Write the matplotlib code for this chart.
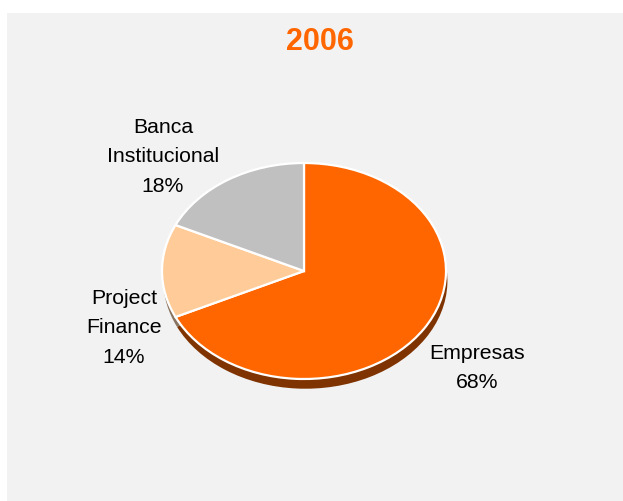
import matplotlib
matplotlib.use("Agg")
import matplotlib.pyplot as plt
from matplotlib.patches import Rectangle

plt.rcParams['font.family'] = ['Liberation Sans', 'DejaVu Sans']

title = "2006"
categories = ["Empresas", "Project\nFinance", "Banca\nInstitucional"]
values = [68, 14, 18]
colors = ["#ff6600", "#ffcc99", "#c0c0c0"]
side_colors = ["#7f3300", "#8a7462", "#6e6e6e"]

W, H = 623, 502
fig = plt.figure(figsize=(W / 100, H / 100), dpi=100, facecolor="white")

# background panel
fig.patches.append(Rectangle((7 / W, 0), 1 - 7 / W, 1 - 14 / H, transform=fig.transFigure,
                             facecolor="#f2f2f2", edgecolor="none", zorder=-5))

# pie geometry in pixels
cx, cy = 304, 272
rx, ry = 142, 108
ax = fig.add_axes([(cx - 1.25 * rx) / W, (H - cy - 1.25 * ry) / H, 2.5 * rx / W, 2.5 * ry / H])
ax.set_zorder(2)
ax.patch.set_visible(False)

# extruded side (shadow)
ax.pie(values, colors=side_colors, startangle=90, counterclock=False,
       center=(0.01, -0.09), radius=1.0,
       wedgeprops=dict(edgecolor="none", linewidth=0))
# top face
ax.pie(values, colors=colors, startangle=90, counterclock=False,
       center=(0, 0), radius=1.0,
       wedgeprops=dict(edgecolor="white", linewidth=1.6))
ax.set_aspect("auto")
ax.set_xlim(-1.25, 1.25)
ax.set_ylim(-1.25, 1.25)
ax.axis("off")

fig.text(320 / W, 1 - 42 / H, title, ha="center", va="center",
         fontsize=22, fontweight="bold", color="#ff6600", zorder=3)

label_pos = [(477, 368), (124, 328), (163, 157)]
for cat, v, (lx, ly) in zip(categories, values, label_pos):
    fig.text(lx / W, 1 - ly / H, f"{cat}\n{v}%", ha="center", va="center",
             fontsize=15.3, color="black", linespacing=1.72, multialignment="center", zorder=3)

fig.savefig("out.png", dpi=100, facecolor="white")
